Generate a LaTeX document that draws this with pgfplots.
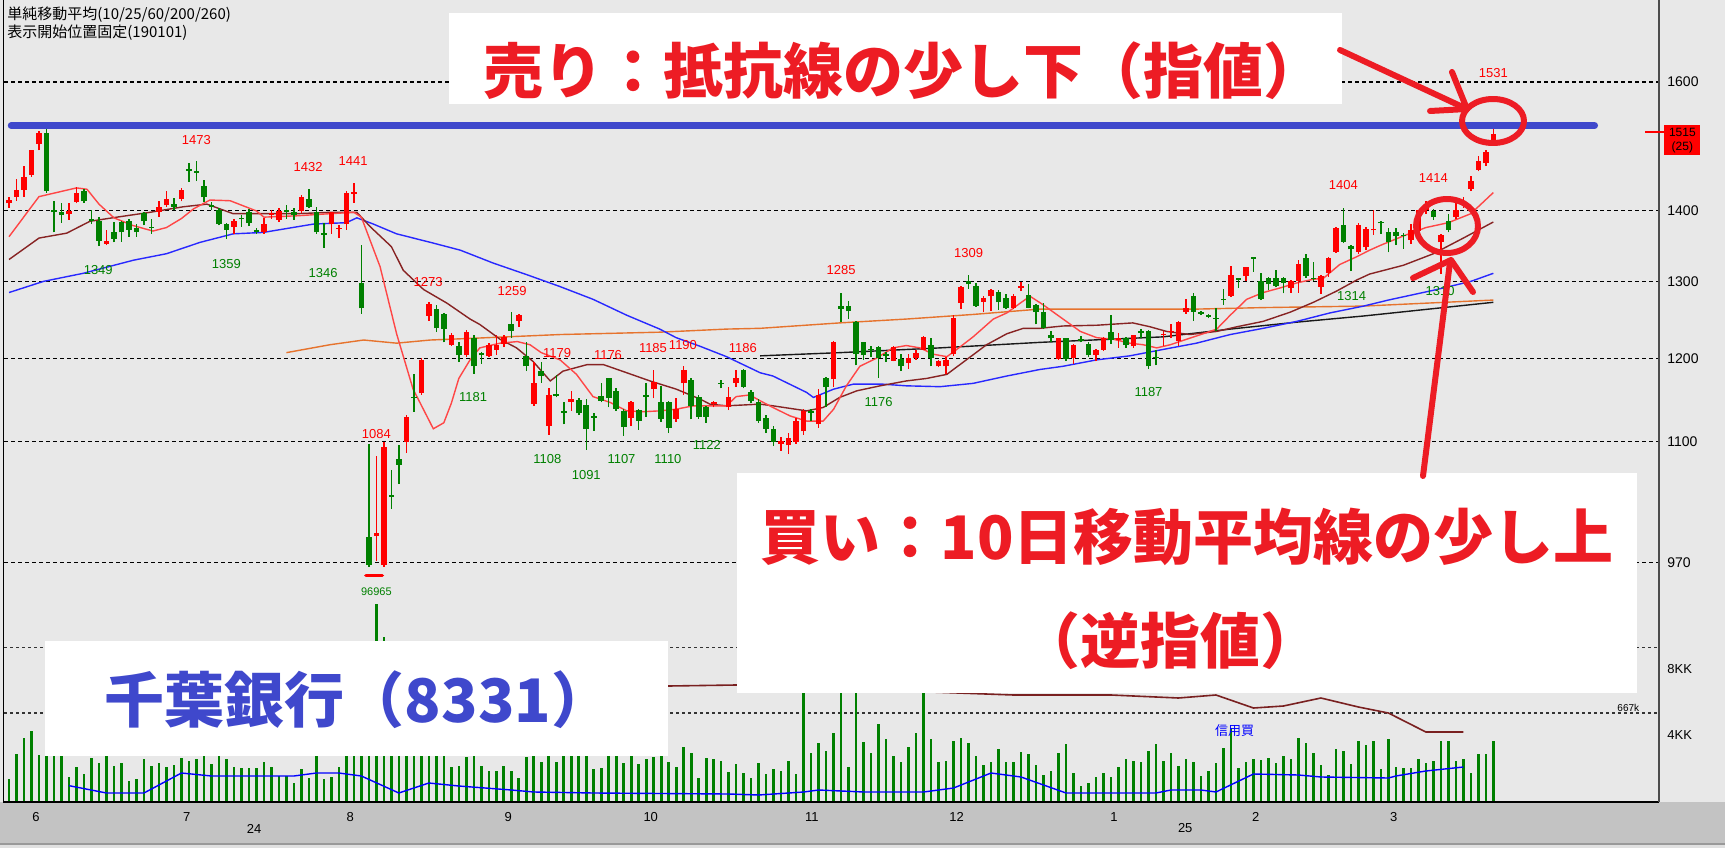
\documentclass[border=0pt]{standalone}
\usepackage{fontspec}
\setmainfont{Liberation Sans}
\newfontfamily\cjk{Noto Sans CJK JP}
\usepackage{pgfplots}
\usepackage{pgfplotstable}
\pgfplotsset{compat=1.18}

\definecolor{bgc}{RGB}{232,232,232}
\definecolor{bandc}{RGB}{195,195,195}
\definecolor{cup}{RGB}{255,0,0}
\definecolor{cdn}{RGB}{0,128,0}
\definecolor{ma10}{RGB}{255,70,70}
\definecolor{ma25}{RGB}{135,35,35}
\definecolor{ma60}{RGB}{40,40,255}
\definecolor{ma200}{RGB}{230,115,45}
\definecolor{ma260}{RGB}{25,25,25}
\definecolor{annred}{RGB}{237,28,36}
\definecolor{annblue}{RGB}{63,72,204}

\newcommand\lbl{\fontsize{6.5}{7}\selectfont}

% candles: i open high low close (red = close above open)
\pgfplotstableread{
i O H L C
0 1410 1420 1404 1415
1 1420 1446 1414 1430
2 1430 1466 1420 1449
3 1453 1491 1450 1490
4 1500 1520 1490 1517
8 1394 1411 1386 1399
9 1412 1434 1410 1426
13 1352 1371 1350 1356
20 1398 1414 1390 1405
21 1407 1428 1405 1417
23 1417 1433 1413 1430
30 1376 1387 1366 1384
34 1368 1389 1366 1380
35 1393 1400 1388 1396
36 1386 1404 1383 1399
39 1399 1422 1396 1420
43 1380 1398 1366 1397
44 1373 1378 1360 1375
45 1380 1428 1372 1426
46 1424 1441 1411 1427
49 997 1084 972 1000
50 968 1100 966 1094
53 1100 1131 1087 1129
55 1157 1200 1155 1198
56 1254 1273 1248 1270
59 1217 1232 1216 1230
61 1204 1236 1202 1233
64 1203 1219 1201 1217
65 1211 1230 1204 1217
66 1218 1229 1214 1227
68 1248 1256 1240 1255
70 1144 1195 1142 1170
72 1118 1163 1108 1155
75 1147 1160 1136 1150
83 1128 1148 1118 1146
86 1162 1185 1151 1171
89 1126 1151 1123 1138
90 1169 1190 1155 1185
94 1144 1148 1140 1147
96 1140 1165 1137 1152
97 1170 1186 1165 1176
103 1098 1106 1090 1101
104 1096 1110 1086 1104
105 1100 1128 1098 1124
106 1112 1138 1108 1136
108 1120 1162 1116 1155
110 1174 1222 1165 1220
118 1197 1215 1196 1214
120 1194 1205 1187 1200
121 1200 1210 1198 1207
122 1211 1228 1210 1227
124 1190 1198 1189 1197
125 1190 1201 1180 1198
126 1205 1255 1203 1252
127 1271 1294 1263 1293
130 1273 1280 1259 1278
131 1280 1290 1261 1288
134 1265 1283 1263 1280
135 1291 1299 1287 1294
140 1199 1226 1198 1225
142 1200 1218 1193 1217
145 1204 1212 1196 1211
146 1211 1227 1209 1225
148 1223 1232 1213 1225
150 1215 1230 1213 1229
154 1229 1234 1215 1231
155 1233 1244 1225 1235
156 1222 1247 1216 1246
157 1259 1276 1257 1264
163 1281 1321 1279 1309
165 1307 1320 1301 1319
171 1291 1302 1285 1300
172 1301 1330 1285 1324
175 1293 1309 1283 1307
176 1312 1333 1306 1332
177 1341 1376 1339 1375
180 1341 1382 1338 1379
181 1347 1376 1343 1373
182 1371 1400 1365 1373
187 1357 1380 1352 1372
188 1370 1401 1365 1400
189 1400 1414 1395 1404
191 1354 1366 1310 1364
193 1390 1412 1388 1400
194 1409 1419 1404 1414
195 1431 1451 1428 1443
196 1460 1481 1458 1473
197 1470 1491 1466 1488
198 1502 1531 1499 1515
}\upc

\pgfplotstableread{
i O H L C
5 1517 1529 1426 1428
6 1400 1414 1368 1397
7 1398 1411 1382 1393
10 1428 1432 1411 1413
11 1387 1400 1380 1384
12 1384 1390 1349 1356
14 1368 1383 1354 1359
15 1383 1385 1355 1368
16 1384 1387 1362 1372
17 1375 1380 1362 1368
18 1396 1398 1378 1384
19 1376 1387 1366 1374
22 1409 1418 1400 1405
24 1461 1470 1442 1459
25 1458 1473 1443 1456
26 1436 1445 1412 1419
27 1408 1412 1400 1405
28 1401 1404 1378 1380
29 1380 1381 1359 1372
31 1389 1393 1376 1387
32 1398 1402 1377 1381
33 1371 1375 1366 1369
37 1400 1407 1388 1398
38 1397 1404 1386 1393
40 1416 1432 1403 1405
41 1397 1405 1366 1368
42 1367 1381 1346 1365
47 1298 1350 1257 1264
48 996 1098 966 968
51 1041 1068 1026 1039
52 1080 1096 1053 1074
54 1153 1180 1135 1151
57 1263 1268 1233 1238
58 1257 1258 1220 1237
60 1215 1221 1195 1204
62 1225 1229 1181 1190
63 1206 1208 1193 1204
67 1243 1259 1226 1235
69 1203 1221 1184 1190
71 1184 1195 1170 1178
73 1156 1179 1152 1154
74 1136 1147 1120 1134
76 1149 1151 1131 1133
77 1143 1150 1091 1115
78 1130 1133 1113 1128
79 1154 1169 1146 1148
80 1175 1176 1140 1151
81 1160 1163 1136 1138
82 1136 1138 1107 1117
84 1137 1138 1114 1124
85 1155 1169 1129 1153
87 1146 1166 1123 1127
88 1147 1148 1110 1116
91 1173 1175 1126 1142
92 1153 1155 1127 1129
93 1141 1142 1122 1129
95 1170 1173 1163 1168
98 1186 1187 1163 1165
99 1159 1161 1145 1148
100 1147 1150 1122 1124
101 1128 1131 1110 1115
102 1115 1118 1095 1100
107 1136 1138 1124 1134
109 1176 1177 1140 1164
111 1267 1285 1246 1263
112 1267 1274 1250 1260
113 1246 1247 1191 1205
114 1220 1221 1198 1204
115 1212 1216 1202 1210
116 1214 1215 1176 1200
117 1205 1208 1195 1203
119 1199 1205 1184 1190
123 1217 1226 1190 1200
128 1300 1309 1290 1296
129 1294 1298 1266 1267
132 1286 1289 1262 1272
133 1278 1283 1263 1264
136 1282 1296 1264 1265
137 1269 1270 1243 1259
138 1259 1271 1237 1239
139 1230 1235 1220 1225
141 1225 1226 1197 1199
143 1224 1228 1220 1222
144 1218 1220 1201 1204
147 1233 1255 1218 1223
149 1225 1227 1213 1217
151 1234 1237 1225 1232
152 1234 1236 1187 1190
153 1202 1211 1191 1200
158 1281 1285 1248 1259
159 1259 1261 1255 1257
160 1255 1257 1251 1253
161 1252 1264 1235 1250
162 1277 1290 1269 1275
164 1304 1305 1291 1302
166 1333 1333 1313 1331
167 1300 1311 1275 1276
168 1305 1306 1288 1296
169 1305 1316 1292 1294
170 1305 1306 1284 1298
173 1332 1338 1305 1307
174 1305 1327 1301 1303
178 1378 1404 1353 1355
179 1349 1350 1314 1344
183 1383 1384 1366 1381
184 1368 1374 1340 1355
185 1368 1374 1350 1363
186 1365 1367 1345 1363
190 1399 1402 1386 1390
192 1385 1395 1368 1372
}\dnc

% volume, thousand shares
\pgfplotstableread{
i v
0 1380
1 2880
2 3840
3 4260
4 2820
5 3600
6 3300
7 3000
8 1500
9 2100
10 1680
11 2640
12 2340
13 3000
14 2160
15 2340
16 1260
17 1380
18 2580
19 2160
20 2340
21 2100
22 2220
23 2640
24 2460
25 2580
26 3000
27 2280
28 3120
29 2580
30 2100
31 2040
32 2040
33 2040
34 2400
35 2100
36 1560
37 1560
38 1140
39 1980
40 1440
41 2880
42 1380
43 1500
44 2100
45 4200
46 5100
47 7200
48 9000
49 11880
50 9900
51 8400
52 6600
53 6000
54 5400
55 5100
56 5700
57 4800
58 4200
59 2100
60 2160
61 2700
62 3300
63 2160
64 1860
65 1860
66 2160
67 1860
68 1440
69 2700
70 3120
71 2400
72 3600
73 2400
74 3300
75 3000
76 3480
77 3720
78 1980
79 2040
80 3000
81 3300
82 2340
83 2880
84 2280
85 2580
86 2700
87 3120
88 2400
89 2100
90 3300
91 2940
92 1440
93 2640
94 2580
95 2460
96 1800
97 2280
98 1720
99 1420
100 2320
101 1680
102 1960
103 1880
104 2480
105 1680
106 9600
107 2920
108 3520
109 3080
110 4120
111 7800
112 2080
113 10200
114 3620
115 2920
116 4680
117 3760
118 2760
119 2420
120 3320
121 4120
122 9000
123 3760
124 2420
125 2480
126 3680
127 3820
128 3520
129 2760
130 2220
131 2420
132 3160
133 2420
134 2380
135 3020
136 2880
137 2220
138 1620
139 1880
140 2920
141 3460
142 1720
143 960
144 1160
145 1520
146 1720
147 1480
148 2120
149 2560
150 2480
151 2420
152 3080
153 3460
154 2480
155 2920
156 2160
157 2560
158 2420
159 1560
160 1880
161 2320
162 3220
163 4420
164 2020
165 2420
166 2560
167 2520
168 2620
169 2320
170 2760
171 2560
172 3820
173 3520
174 2920
175 2220
176 1620
177 3160
178 3080
179 2260
180 3680
181 3420
182 3680
183 1960
184 3760
185 2080
186 2020
187 2020
188 2560
189 2320
190 2480
191 3680
192 3680
193 2480
194 2560
195 1720
196 2860
197 2860
198 3680
}\vol

\begin{document}
\begin{tikzpicture}
\useasboundingbox (0,0) rectangle (862.5pt,424pt);
\begin{scope}[x=0.5pt,y=-0.5pt,yshift=424pt]
\fill[bgc] (0,0) rectangle (1725,848);
\fill[bandc] (0,802) rectangle (1725,843);
\fill[black!40] (0,843) rectangle (1725,845);
\fill[black!12] (0,845) rectangle (1725,848);
\end{scope}

% price pane
\begin{axis}[
  at={(2pt,23pt)}, anchor=south west, scale only axis,
  width=827.5pt, height=401pt,
  xmin=-0.67, xmax=220.1,
  ymode=log, ymin=756, ymax=1743,
  axis line style={draw=none}, tick style={draw=none},
  ytick={970,1100,1200,1300,1400,1600},
  yticklabels={970,1100,1200,1300,1400,1600},
  yticklabel pos=right,
  yticklabel style={anchor=west, inner sep=0pt, xshift=4pt, font=\fontsize{7}{8}\selectfont},
  ymajorgrids,
  major grid style={black, line width=0.6pt, dash pattern=on 2pt off 1.5pt},
  xtick={3.6,23.7,45.5,66.6,85.6,107.1,126.4,147.4,166.3,184.7},
  xticklabels={6,7,8,9,10,11,12,1,2,3},
  xticklabel style={anchor=center, inner sep=0pt, yshift=-7.5pt, font=\fontsize{6.5}{7}\selectfont},
  extra x ticks={32.7,156.9}, extra x tick labels={24,25},
  extra x tick style={xticklabel style={yshift=-5.8pt}},
]
\addplot[ma200, line width=0.7pt] coordinates {
(37,1207) (42.8,1217) (47.3,1223) (51.7,1219) (56.2,1223) (61.5,1225) (73.5,1230)
(86.8,1233) (95.7,1237) (100.2,1238) (110.8,1245) (119.7,1250) (128.6,1256)
(137.5,1263) (158.4,1263) (167.3,1265) (180.7,1267) (198,1275)};
\addplot[ma260, line width=0.7pt] coordinates {
(100.2,1203) (110.8,1207) (124.2,1213) (137.5,1220) (153.9,1227) (162.9,1237)
(171.8,1246) (180.7,1254) (198,1272)};
\addplot[ma60, line width=0.7pt] coordinates {
(0,1285) (4.6,1300) (9.9,1311) (16.6,1329) (21,1338) (25.5,1354) (29.9,1366)
(33.9,1368) (40.6,1380) (45,1382) (46.4,1389) (48.6,1380) (51.7,1366) (56.2,1354)
(60.2,1343) (64.6,1325) (69.1,1309) (73.5,1293) (77.9,1276) (82.4,1255) (86.8,1237)
(89,1226) (92.2,1215) (95.7,1202) (100.2,1182) (101.9,1178) (106.4,1158) (107.3,1152)
(110,1162) (112.6,1168) (116.6,1168) (119.7,1166) (124.2,1165) (128.6,1169)
(133.1,1178) (137.5,1186) (140.6,1190) (145.1,1198) (149.5,1203) (153.9,1211)
(158.4,1219) (162.9,1230) (167.3,1238) (171.8,1247) (176.2,1258) (180.7,1267)
(184,1275) (190,1288) (195,1300) (198,1311)};
\addplot[ma25, line width=0.7pt] coordinates {
(0,1330) (4,1360) (7.7,1367) (10.8,1384) (14.4,1390) (18.8,1397) (23.2,1405)
(26.4,1409) (29.9,1395) (33.9,1395) (38.4,1395) (42.8,1397) (46.4,1397) (48.2,1376)
(51,1348) (52.6,1315) (55.3,1289) (58.4,1271) (61.5,1250) (62.8,1243) (65.5,1224)
(67.7,1213) (69.9,1196) (72.2,1172) (73.9,1184) (77.1,1192) (79.3,1192) (82.4,1182)
(85.5,1172) (89,1162) (92.2,1150) (93.5,1144) (95.7,1142) (100.2,1144) (101.9,1142)
(106.4,1136) (108.6,1140) (110.8,1152) (113.1,1160) (116.2,1166) (119.7,1172)
(122.4,1175) (125.1,1180) (127.7,1198) (130.4,1217) (133.1,1231) (135.3,1238)
(137.5,1238) (140.6,1241) (145.1,1242) (149.9,1245) (152.2,1240) (154.4,1234)
(157.5,1230) (161.1,1234) (163.8,1240) (167.3,1247) (170.9,1259) (174,1272)
(177.1,1287) (179.8,1302) (181.5,1310) (186,1322) (190,1338) (194,1360) (198,1383)};
\addplot[ma10, line width=0.7pt] coordinates {
(0,1362) (4,1420) (9,1433) (10.4,1431) (12,1409) (14,1389) (16.5,1378) (19.2,1370)
(21,1375) (23,1388) (24.6,1402) (26.8,1415) (29.5,1414) (33,1399) (34,1390)
(38.4,1392) (42.8,1395) (46,1397) (47,1390) (49.5,1320) (51.7,1231) (53.9,1162)
(56.6,1115) (58,1122) (59,1145) (60,1175) (61.5,1198) (62.8,1213) (65.5,1219)
(67.8,1221) (69.5,1217) (71,1207) (73.5,1198) (75.7,1180) (77.9,1153) (80.2,1146)
(82.4,1136) (84.6,1135) (86.8,1136) (89,1138) (91.3,1142) (95.7,1142) (97,1153)
(98.8,1155) (100.2,1148) (101.9,1140) (104.2,1130) (106.4,1124) (108.6,1124)
(110,1138) (111.7,1166) (113.5,1190) (115.7,1200) (117.9,1213) (119.7,1216)
(121.5,1213) (123.3,1205) (125.1,1202) (126,1208) (128.6,1227) (131.3,1250)
(133.1,1258) (134.9,1271) (136.2,1280) (137.9,1269) (140.6,1250) (142.9,1234)
(145.1,1226) (147.3,1224) (149.5,1219) (151.3,1217) (153.1,1213) (154.9,1217)
(157.1,1224) (159.3,1231) (161.1,1237) (162.9,1255) (165.1,1276) (167.3,1285)
(169.5,1291) (171.8,1298) (174,1303) (175.3,1304) (177.5,1323) (179.8,1334)
(181.5,1343) (183,1350) (186,1363) (189,1375) (192,1382) (195,1395) (198,1426)};

% wicks
\addplot[draw=none, mark=none, forget plot, error bars/.cd, y dir=plus, y explicit,
  error mark=none, error bar style={draw=cup, line width=0.75pt, solid}]
  table[x=i, y=L, y error expr=\thisrow{H}-\thisrow{L}] {\upc};
\addplot[draw=none, mark=none, forget plot, error bars/.cd, y dir=plus, y explicit,
  error mark=none, error bar style={draw=cdn, line width=0.75pt, solid}]
  table[x=i, y=L, y error expr=\thisrow{H}-\thisrow{L}] {\dnc};
% bodies
\addplot[draw=none, mark=none, forget plot, error bars/.cd, y dir=plus, y explicit,
  error mark=none, error bar style={draw=cup, line width=2.8pt, solid, line cap=butt}]
  table[x=i, y=O, y error expr=\thisrow{C}-\thisrow{O}] {\upc};
\addplot[draw=none, mark=none, forget plot, error bars/.cd, y dir=plus, y explicit,
  error mark=none, error bar style={draw=cdn, line width=2.8pt, solid, line cap=butt}]
  table[x=i, y=C, y error expr=\thisrow{O}-\thisrow{C}] {\dnc};

% lowest-price marker and resistance line
\draw[cup, line width=1.7pt, line cap=round] (axis cs:47.6,957) -- (axis cs:49.8,957);
\draw[annblue, line width=3.5pt, line cap=round] (axis cs:0.3,1529) -- (axis cs:211.5,1529);

% high / low labels
\begin{scope}[every node/.style={font=\lbl, inner sep=0pt}]
\node[text=cup] at (axis cs:25,1507) {1473};
\node[text=cup] at (axis cs:39.9,1464) {1432};
\node[text=cup] at (axis cs:45.9,1474) {1441};
\node[text=cup] at (axis cs:49,1109) {1084};
\node[text=cup] at (axis cs:55.9,1299) {1273};
\node[text=cup] at (axis cs:67.1,1287) {1259};
\node[text=cup] at (axis cs:73.1,1207) {1179};
\node[text=cup] at (axis cs:79.9,1204) {1176};
\node[text=cup] at (axis cs:85.9,1213) {1185};
\node[text=cup] at (axis cs:89.9,1217) {1190};
\node[text=cup] at (axis cs:97.9,1213) {1186};
\node[text=cup] at (axis cs:111,1315) {1285};
\node[text=cup] at (axis cs:128,1339) {1309};
\node[text=cup] at (axis cs:178,1437) {1404};
\node[text=cup] at (axis cs:190,1448) {1414};
\node[text=cup] at (axis cs:198,1616) {1531};
\node[text=cdn] at (axis cs:11.9,1315) {1349};
\node[text=cdn] at (axis cs:29,1324) {1359};
\node[text=cdn] at (axis cs:41.9,1311) {1346};
\node[text=cdn] at (axis cs:61.9,1152) {1181};
\node[text=cdn] at (axis cs:71.8,1080) {1108};
\node[text=cdn] at (axis cs:77,1063) {1091};
\node[text=cdn] at (axis cs:81.7,1080) {1107};
\node[text=cdn] at (axis cs:87.9,1080) {1110};
\node[text=cdn] at (axis cs:93.1,1096) {1122};
\node[text=cdn] at (axis cs:116,1146) {1176};
\node[text=cdn] at (axis cs:152,1158) {1187};
\node[text=cdn] at (axis cs:179.1,1281) {1314};
\node[text=cdn] at (axis cs:190.9,1287) {1310};
\node[text=cdn, font=\fontsize{5.5}{6}\selectfont] at (axis cs:49,941) {96965};
\end{scope}
\end{axis}

% volume pane
\begin{axis}[
  at={(2pt,23pt)}, anchor=south west, scale only axis,
  width=827.5pt, height=401pt,
  xmin=-0.67, xmax=220.1, ymin=0, ymax=48120,
  axis line style={draw=none}, tick style={draw=none},
  xtick=\empty, scaled y ticks=false,
  ytick={4000,8000}, yticklabels={4KK,8KK},
  yticklabel pos=right,
  yticklabel style={anchor=west, inner sep=0pt, xshift=4pt, font=\fontsize{6.5}{7}\selectfont},
  extra y ticks={5340,9258}, extra y tick labels={},
  extra y tick style={grid=major},
  major grid style={black!80, line width=0.55pt, dash pattern=on 1.5pt off 1.5pt},
]
\addplot[ycomb, draw=cdn, line width=1.3pt, mark=none] table[x=i, y=v] {\vol};
\addplot[ma25!90!black, line width=0.8pt] coordinates {
(30,6900) (88,6960) (97,7020) (134,6420) (147,6420) (156,6240) (161,6420) (166,5640)
(170,5760) (175,6240) (180,5700) (184,5340) (189,4200) (194,4200)};
\addplot[blue, line width=0.7pt] coordinates {
(8,980) (13,540) (18,540) (23,1740) (27,1560) (38,1560) (41,1740) (44,1740) (47,1560)
(52,540) (56,1140) (60,960) (67,720) (70,600) (78,540) (96,480) (100,420) (106,600)
(108,720) (114,600) (122,600) (126,840) (131,1740) (135,1500) (141,540) (149,540)
(153,540) (155,720) (159,720) (161,600) (166,1680) (172,1620) (175,1500) (184,1440)
(185,1560) (189,1860) (194,2100)};
\node[text=blue, font=\cjk\fontsize{6.5}{7}\selectfont, inner sep=0pt] at (axis cs:163.5,4260) {信用買};
\node[font=\fontsize{5}{6}\selectfont, inner sep=0pt, anchor=south] at (axis cs:216,5400) {667k};
\end{axis}

% annotations in pixel coordinates
\begin{scope}[x=0.5pt,y=-0.5pt,yshift=424pt]
\draw[black, line width=0.8pt] (3.5,0) -- (3.5,802) -- (1659,802);
\draw[black!70, line width=0.6pt] (1659,0) -- (1659,802);
\node[font=\cjk\fontsize{7.5}{8}\selectfont, anchor=west, inner sep=0pt] at (7,15) {単純移動平均(10/25/60/200/260)};
\node[font=\cjk\fontsize{7.5}{8}\selectfont, anchor=west, inner sep=0pt] at (7,33) {表示開始位置固定(190101)};
% price tag
\draw[cup, line width=0.6pt] (1645,132) -- (1664,132);
\node[fill=cup, text=black, font=\fontsize{6}{7}\selectfont, inner sep=0pt, minimum width=18pt, minimum height=7.2pt, anchor=north west] at (1664,125) {1515};
\node[fill=cup, text=black, font=\fontsize{6}{7}\selectfont, inner sep=0pt, minimum width=18pt, minimum height=7.2pt, anchor=north west] at (1664,140) {(25)};
% white boxes
\fill[white] (449,13) rectangle (1342,104);
\fill[white] (737,473) rectangle (1637,693);
\fill[white] (45,641) rectangle (668,756);
\node[text=annred, font=\cjk\bfseries\fontsize{30}{32}\selectfont, inner sep=0pt] at (903,71) {売り：抵抗線の少し下（指値）};
\node[text=annred, font=\cjk\bfseries\fontsize{30}{32}\selectfont, inner sep=0pt] at (1187,537) {買い：10日移動平均線の少し上};
\node[text=annred, font=\cjk\bfseries\fontsize{30}{32}\selectfont, inner sep=0pt] at (1170,641) {（逆指値）};
\node[text=annblue, font=\cjk\bfseries\fontsize{30}{32}\selectfont, inner sep=0pt] at (358,700) {千葉銀行（8331）};
% arrows and circles
\begin{scope}[annred, line width=3pt, line cap=round, line join=round]
\draw (1340,50) -- (1467,109);
\draw (1452,72) -- (1467,109) -- (1430,111);
\draw (1493,121) ellipse [x radius=31, y radius=22];
\draw (1447,226) ellipse [x radius=31, y radius=27];
\draw (1423,476) -- (1450,262);
\draw (1413,278) -- (1451,260) -- (1473,292);
\end{scope}
\end{scope}
\end{tikzpicture}
\end{document}
